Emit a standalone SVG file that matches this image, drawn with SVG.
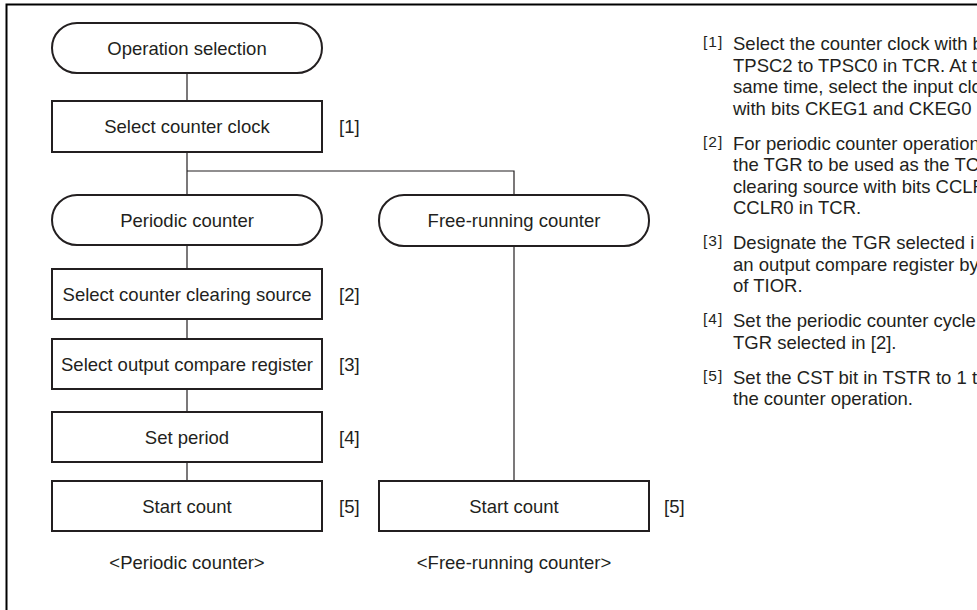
<svg xmlns="http://www.w3.org/2000/svg" width="977" height="610" viewBox="0 0 977 610">
<style>
  text { font-family: "Liberation Sans", Arial, Helvetica, sans-serif; font-size: 18.5px; fill: #231f20; }
  .c { text-anchor: middle; }
  .node { fill: #ffffff; stroke: #231f20; stroke-width: 2; }
  .conn { fill: none; stroke: #231f20; stroke-width: 1.2; }
  .frame { fill: none; stroke: #000000; stroke-width: 2; }
  .ref { font-size: 15.5px; letter-spacing: 1px; }
</style>
<rect x="0" y="0" width="977" height="610" fill="#ffffff"/>
<path class="frame" d="M6.5,610 V4.5 H977"/>

<g id="connectors">
  <path class="conn" d="M187,73 V101"/>
  <path class="conn" d="M187,152 V195"/>
  <path class="conn" d="M187,171 H514 V195"/>
  <path class="conn" d="M187,245 V269"/>
  <path class="conn" d="M187,319 V339"/>
  <path class="conn" d="M187,389 V412"/>
  <path class="conn" d="M187,462 V481"/>
  <path class="conn" d="M514,246 V481"/>
</g>

<g id="operation-selection">
  <rect class="node" x="52" y="23" width="270" height="50" rx="25" ry="25"/>
  <text class="c" x="187" y="54.6">Operation selection</text>
</g>
<g id="select-counter-clock">
  <rect class="node" x="52" y="101" width="270" height="51"/>
  <text class="c" x="187" y="133">Select counter clock</text>
  <text x="339" y="133">[1]</text>
</g>
<g id="periodic-counter">
  <rect class="node" x="52" y="195" width="270" height="50" rx="25" ry="25"/>
  <text class="c" x="187" y="226.6">Periodic counter</text>
</g>
<g id="free-running-counter">
  <rect class="node" x="379" y="195" width="270" height="51" rx="25" ry="25"/>
  <text class="c" x="514" y="227">Free-running counter</text>
</g>
<g id="select-clearing-source">
  <rect class="node" x="52" y="269" width="270" height="50"/>
  <text class="c" x="187" y="300.6">Select counter clearing source</text>
  <text x="339" y="300.6">[2]</text>
</g>
<g id="select-output-compare">
  <rect class="node" x="52" y="339" width="270" height="50"/>
  <text class="c" x="187" y="370.6">Select output compare register</text>
  <text x="339" y="370.6">[3]</text>
</g>
<g id="set-period">
  <rect class="node" x="52" y="412" width="270" height="50"/>
  <text class="c" x="187" y="443.6">Set period</text>
  <text x="339" y="443.6">[4]</text>
</g>
<g id="start-count-periodic">
  <rect class="node" x="52" y="481" width="270" height="50"/>
  <text class="c" x="187" y="512.6">Start count</text>
  <text x="339" y="512.6">[5]</text>
</g>
<g id="start-count-free">
  <rect class="node" x="379" y="481" width="270" height="50"/>
  <text class="c" x="514" y="512.6">Start count</text>
  <text x="664" y="512.6">[5]</text>
</g>

<g id="captions">
  <text class="c" x="187" y="569">&lt;Periodic counter&gt;</text>
  <text class="c" x="514" y="569">&lt;Free-running counter&gt;</text>
</g>

<g id="notes">
  <text class="ref" x="703" y="47">[1]</text>
  <text x="733" y="50">Select the counter clock with b</text>
  <text x="733" y="71.5">TPSC2 to TPSC0 in TCR. At t</text>
  <text x="733" y="93">same time, select the input clo</text>
  <text x="733" y="114.5">with bits CKEG1 and CKEG0</text>

  <text class="ref" x="703" y="146.5">[2]</text>
  <text x="733" y="149.5">For periodic counter operation</text>
  <text x="733" y="171">the TGR to be used as the TC</text>
  <text x="733" y="192.5">clearing source with bits CCLR</text>
  <text x="733" y="214">CCLR0 in TCR.</text>

  <text class="ref" x="703" y="246">[3]</text>
  <text x="733" y="249">Designate the TGR selected i</text>
  <text x="733" y="270.5">an output compare register by</text>
  <text x="733" y="292">of TIOR.</text>

  <text class="ref" x="703" y="324">[4]</text>
  <text x="733" y="327">Set the periodic counter cycle</text>
  <text x="733" y="348.5">TGR selected in [2].</text>

  <text class="ref" x="703" y="380.5">[5]</text>
  <text x="733" y="383.5">Set the CST bit in TSTR to 1 t</text>
  <text x="733" y="405">the counter operation.</text>
</g>
</svg>
